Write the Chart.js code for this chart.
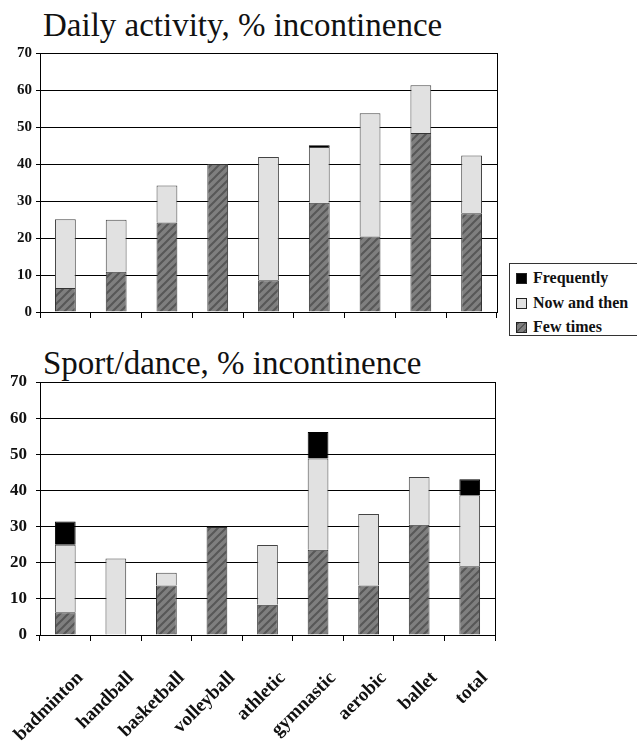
<!DOCTYPE html>
<html>
<head>
<meta charset="utf-8">
<script src="https://cdn.jsdelivr.net/npm/chart.js@4/dist/chart.umd.min.js"></script>
<style>
  html, body { margin: 0; padding: 0; background: #fff; }
  body { position: relative; width: 637px; height: 754px; overflow: hidden; font-family: 'Liberation Serif', 'Times New Roman', serif; }
  .title { position: absolute; left: 43px; font-size: 33px; line-height: 33px; color: #111; white-space: nowrap; }
  canvas { position: absolute; left: 0; }
  #legend { position: absolute; left: 509px; top: 263px; width: 140px; height: 73px; border: 1px solid #333; box-sizing: border-box; }
  #legend .item { position: absolute; left: 6px; height: 20px; line-height: 20px; font-weight: bold; font-size: 16px; color: #111; white-space: nowrap; }
  #legend .sw { display: inline-block; width: 11px; height: 11px; border: 1px solid #222; box-sizing: border-box; vertical-align: -1px; margin-right: 6px; }
</style>
</head>
<body>
<div class="title" id="t1" style="top:9px"></div>
<canvas id="c1" width="505" height="330" style="top:0"></canvas>
<div id="legend"></div>
<div class="title" id="t2" style="top:347px"></div>
<canvas id="c2" width="505" height="424" style="top:330px"></canvas>
<script>
// ---- data ----
const categories = ['badminton', 'handball', 'basketball', 'volleyball', 'athletic', 'gymnastic', 'aerobic', 'ballet', 'total'];
const seriesNames = ['Few times', 'Now and then', 'Frequently'];
const titleDaily = 'Daily activity, % incontinence';
const titleSport = 'Sport/dance, % incontinence';
const yTicks = [0, 10, 20, 30, 40, 50, 60, 70];

const dailyFew  = [6.5, 10.9, 24.2, 40.0, 8.6, 29.5, 20.4, 48.4, 26.7];
const dailyNow  = [18.6, 14.0, 10.0, 0, 33.3, 15.1, 33.3, 12.9, 15.6];
const dailyFreq = [0, 0, 0, 0, 0, 0.5, 0, 0, 0];

const sportFew  = [6.3, 0, 13.7, 29.9, 8.4, 23.6, 13.7, 30.5, 19.0];
const sportNow  = [18.7, 21.2, 3.5, 0, 16.5, 25.2, 19.8, 13.2, 19.7];
const sportFreq = [6.4, 0, 0, 0, 0, 7.4, 0, 0, 4.4];

// ---- styles ----
function hatchPattern() {
  const c = document.createElement('canvas');
  c.width = 8; c.height = 8;
  const g = c.getContext('2d');
  g.fillStyle = '#7f7f7f';
  g.fillRect(0, 0, 8, 8);
  g.strokeStyle = '#575757';
  g.lineWidth = 2;
  g.beginPath();
  g.moveTo(-2, 10); g.lineTo(10, -2);
  g.moveTo(-6, 6); g.lineTo(6, -6);
  g.moveTo(2, 14); g.lineTo(14, 2);
  g.stroke();
  return g.createPattern(c, 'repeat');
}
const colFew = hatchPattern();
const colNow = '#e1e1e1';
const colFreq = '#000000';

document.getElementById('t1').textContent = titleDaily;
document.getElementById('t2').textContent = titleSport;

// legend (HTML)
const legend = document.getElementById('legend');
const legendItems = [
  { name: seriesNames[2], bg: '#000' },
  { name: seriesNames[1], bg: colNow },
  { name: seriesNames[0], bg: 'repeating-linear-gradient(135deg,#575757 0 2px,#7f7f7f 2px 5px)' }
];
legendItems.forEach((it, i) => {
  const d = document.createElement('div');
  d.className = 'item';
  d.style.top = (4 + i * 24.5) + 'px';
  const s = document.createElement('span');
  s.className = 'sw';
  s.style.background = it.bg;
  d.appendChild(s);
  d.appendChild(document.createTextNode(it.name));
  legend.appendChild(d);
});

const frame = {
  id: 'frame',
  beforeDatasetsDraw(chart) {
    const { ctx, chartArea: a } = chart;
    ctx.save();
    ctx.strokeStyle = '#000';
    ctx.lineWidth = 1;
    ctx.beginPath();
    ctx.moveTo(Math.round(a.right) + 0.5, a.top);
    ctx.lineTo(Math.round(a.right) + 0.5, a.bottom);
    ctx.stroke();
    ctx.restore();
  }
};

function makeChart(id, few, now, freq, o) {
  return new Chart(document.getElementById(id), {
    type: 'bar',
    data: {
      labels: categories,
      datasets: [
        { label: seriesNames[0], data: few, backgroundColor: colFew, borderColor: '#333', borderWidth: 1 },
        { label: seriesNames[1], data: now, backgroundColor: colNow, borderColor: '#444', borderWidth: 1 },
        { label: seriesNames[2], data: freq, backgroundColor: colFreq, borderColor: '#000', borderWidth: 1 }
      ]
    },
    options: {
      responsive: false,
      animation: false,
      devicePixelRatio: 1,
      layout: { padding: { top: o.padTop, right: o.padRight, left: 0, bottom: 0 } },
      datasets: { bar: { barPercentage: 0.41, categoryPercentage: 1.0 } },
      plugins: { legend: { display: false }, tooltip: { enabled: false }, title: { display: false } },
      scales: {
        x: {
          stacked: true,
          offset: true,
          grid: { display: true, offset: true, drawOnChartArea: false, drawTicks: true, tickLength: 6, color: '#000', lineWidth: 1 },
          border: { display: true, color: '#000', width: 1 },
          ticks: {
            display: o.showLabels,
            autoSkip: false,
            minRotation: 45, maxRotation: 45,
            padding: 26,
            labelOffset: 15,
            color: '#111',
            font: { family: 'Liberation Serif', size: 19, weight: 'bold' }
          },
          afterFit(s) { s.height = o.xHeight; s.paddingLeft = 0; s.paddingRight = 0; }
        },
        y: {
          stacked: true,
          min: 0, max: 70,
          afterBuildTicks(s) { s.ticks = yTicks.map(v => ({ value: v })); },
          grid: { color: '#000', lineWidth: 1, tickLength: 4 },
          border: { display: true, color: '#000', width: 1 },
          ticks: {
            padding: o.yPad,
            color: '#111',
            font: { family: 'Liberation Serif', size: o.yFont, weight: 'bold' }
          },
          afterFit(s) { s.width = 40; }
        }
      }
    },
    plugins: [frame]
  });
}

makeChart('c1', dailyFew, dailyNow, dailyFreq, { padTop: 53, padRight: 8, xHeight: 18, showLabels: false, yPad: 4, yFont: 15 });
makeChart('c2', sportFew, sportNow, sportFreq, { padTop: 52, padRight: 10, xHeight: 119, showLabels: true, yPad: 9, yFont: 17 });
</script>
</body>
</html>
